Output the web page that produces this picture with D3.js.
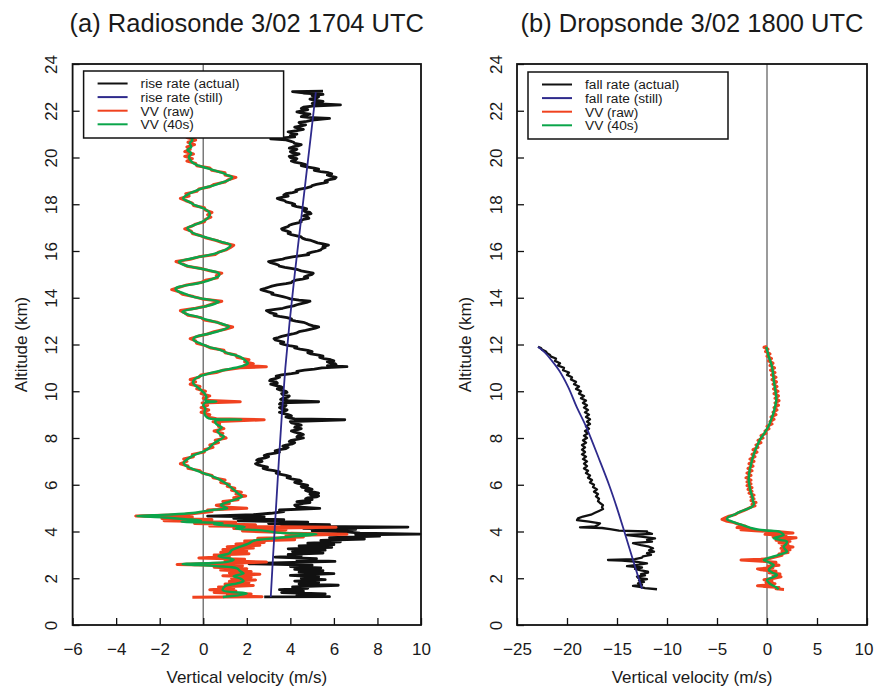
<!DOCTYPE html>
<html>
<head>
<meta charset="utf-8">
<script src="https://cdn.jsdelivr.net/npm/d3@7"></script>
<style>
  body { margin: 0; background: #fff; }
  text { font-family: "Liberation Sans", Arial, Helvetica, sans-serif; fill: #1a1a1a; }
</style>
</head>
<body>
<div id="chart"></div>
<script>
// ---- data: [altitude (km), vertical velocity (m/s)] ----
const altTicks = [0, 2, 4, 6, 8, 10, 12, 14, 16, 18, 20, 22, 24];
const xTicksA = [-6, -4, -2, 0, 2, 4, 6, 8, 10];
const xTicksB = [-25, -20, -15, -10, -5, 0, 5, 10];

const legendA = ["rise rate (actual)", "rise rate (still)", "VV (raw)", "VV (40s)"];
const legendB = ["fall rate (actual)", "fall rate (still)", "VV (raw)", "VV (40s)"];

// (a) radiosonde
const radioStill = [[1.2,3.10],[3,3.21],[5,3.34],[7,3.47],[9,3.61],[11,3.77],[13,3.97],[15,4.2],[17,4.45],[19,4.7],[21,4.95],[22.8,5.17]];

const radioVV40 = [[1.20,0.9],[1.35,2.0],[1.49,0.9],[1.66,1.0],[1.78,1.55],[1.88,1.85],[1.99,1.7],[2.09,1.4],[2.21,1.85],[2.30,1.7],[2.42,1.55],[2.52,0.6],[2.61,-0.95],[2.70,1.1],[2.80,1.4],[2.94,0.7],[3.07,1.2],[3.20,1.3],[3.30,1.55],[3.49,2.1],[3.60,2.3],[3.71,3.3],[3.80,4.3],[3.88,5.2],[3.95,3.4],[4.05,2.7],[4.12,1.5],[4.20,1.9],[4.30,0.5],[4.36,0.9],[4.42,-1.0],[4.47,-0.1],[4.53,-0.8],[4.60,-1.8],[4.66,-3.05],[4.72,-1.6],[4.79,-0.5],[4.86,0.0],[4.93,0.5],[4.99,1.1],[5.13,0.8],[5.25,1.1],[5.36,1.45],[5.50,1.78],[5.62,1.6],[5.75,1.45],[5.91,1.25],[6.05,1.05],[6.20,0.8],[6.35,0.45],[6.48,0.05],[6.60,-0.3],[6.72,-0.6],[6.85,-0.85],[6.95,-0.9],[7.08,-0.75],[7.27,-0.43],[7.40,-0.05],[7.52,0.2],[7.65,0.35],[7.78,0.5],[7.92,0.75],[8.06,0.95],[8.18,0.75],[8.30,0.65],[8.45,0.85],[8.60,0.6],[8.72,0.55],[8.79,1.75],[8.84,0.25],[8.95,0.1],[9.10,0.05],[9.25,0.1],[9.40,0.0],[9.52,0.1],[9.56,0.6],[9.61,0.1],[9.75,0.15],[9.91,0.05],[10.05,-0.1],[10.20,-0.3],[10.32,-0.45],[10.45,-0.45],[10.58,-0.3],[10.70,0.05],[10.84,0.6],[10.97,1.3],[11.10,1.85],[11.20,2.05],[11.30,1.95],[11.47,1.7],[11.62,1.15],[11.76,0.8],[11.90,0.25],[12.04,-0.12],[12.20,-0.45],[12.30,-0.4],[12.47,0.3],[12.62,0.85],[12.76,1.18],[12.90,0.8],[13.05,0.2],[13.19,-0.28],[13.30,-0.75],[13.40,-0.96],[13.52,-0.5],[13.62,0.05],[13.75,0.55],[13.83,0.72],[13.97,-0.12],[14.08,-0.6],[14.19,-0.9],[14.30,-1.2],[14.40,-1.27],[14.50,-0.95],[14.61,-0.28],[14.72,0.2],[14.83,0.49],[14.94,0.72],[15.04,0.72],[15.19,0.18],[15.33,-0.58],[15.45,-1.0],[15.54,-1.12],[15.65,-0.7],[15.76,-0.12],[15.87,0.45],[15.97,0.8],[16.10,1.1],[16.25,1.25],[16.40,0.8],[16.55,0.25],[16.70,-0.3],[16.85,-0.6],[16.97,-0.73],[17.10,-0.45],[17.25,-0.05],[17.40,0.2],[17.55,0.3],[17.68,0.25],[17.82,0.03],[17.95,-0.35],[18.08,-0.6],[18.25,-0.92],[18.40,-0.75],[18.55,-0.4],[18.68,-0.05],[18.80,0.45],[18.92,0.85],[19.05,1.2],[19.15,1.33],[19.25,1.1],[19.35,0.85],[19.45,0.5],[19.55,0.15],[19.65,-0.2],[19.75,-0.45],[19.90,-0.6],[20.03,-0.66],[20.18,-0.55],[20.32,-0.73],[20.45,-0.55],[20.60,-0.62],[20.75,-0.5],[20.90,-0.6],[21.10,-0.55]];

const radioVVraw = [[1.19,-0.5],[1.21,2.7],[1.27,1.1],[1.33,2.2],[1.39,0.5],[1.45,1.5],[1.51,0.3],[1.57,1.4],[1.63,0.7],[1.69,2.3],[1.75,1.0],[1.81,2.1],[1.87,1.2],[1.93,2.4],[1.99,1.3],[2.05,2.2],[2.11,0.9],[2.17,2.6],[2.23,1.2],[2.29,2.2],[2.35,0.8],[2.41,2.0],[2.47,0.5],[2.53,1.8],[2.59,-1.2],[2.63,0.3],[2.69,2.9],[2.75,1.0],[2.81,1.9],[2.87,-0.2],[2.93,1.2],[2.99,0.5],[3.05,2.1],[3.11,0.8],[3.17,2.0],[3.23,0.9],[3.29,2.3],[3.35,1.1],[3.41,2.6],[3.47,1.5],[3.53,2.8],[3.59,1.9],[3.65,4.2],[3.71,2.5],[3.77,4.6],[3.83,3.8],[3.88,6.6],[3.92,4.0],[3.97,3.4],[4.02,1.8],[4.08,3.8],[4.13,1.4],[4.18,6.1],[4.23,0.3],[4.29,2.4],[4.34,-0.4],[4.40,1.5],[4.46,-1.8],[4.51,0.4],[4.56,-1.9],[4.62,-0.5],[4.66,-3.1],[4.72,-1.0],[4.78,-0.3],[4.85,0.4],[4.92,0.2],[4.99,2.0],[5.05,0.9],[5.12,0.6],
  [5.20,1.2],[5.28,0.9],[5.36,1.6],[5.44,1.4],[5.52,1.95],[5.60,1.5],[5.68,1.75],[5.76,1.3],[5.85,1.45],[5.93,1.1],[6.02,1.2],[6.10,0.8],[6.20,1.0],[6.30,0.45],[6.40,0.4],[6.50,-0.05],[6.60,-0.15],[6.70,-0.7],[6.80,-0.7],[6.90,-1.05],[7.00,-0.75],[7.10,-0.9],[7.20,-0.45],[7.30,-0.5],[7.40,0.05],[7.50,0.05],[7.60,0.45],[7.70,0.3],[7.80,0.7],[7.90,0.55],[8.00,1.05],[8.10,0.8],[8.20,0.9],[8.30,0.5],[8.40,0.95],[8.50,0.7],[8.60,0.75],[8.70,0.45],[8.78,2.8],[8.82,0.6],[8.90,0.2],[9.00,0.3],[9.10,-0.1],[9.20,0.25],[9.30,-0.1],[9.40,0.2],[9.50,-0.05],[9.55,1.7],[9.60,0.3],[9.70,0.0],[9.80,0.3],[9.90,-0.1],[10.00,0.1],[10.10,-0.3],[10.20,-0.15],[10.30,-0.6],[10.40,-0.35],[10.50,-0.6],[10.60,-0.2],[10.70,-0.1],[10.80,0.6],[10.90,0.9],[11.00,1.7],[11.05,2.9],[11.10,1.9],[11.18,2.3],[11.26,1.9],[11.35,2.1],[11.45,1.55],[11.55,1.5],[11.65,1.0],[11.75,0.95],[11.85,0.35],[11.95,0.1],[12.05,-0.3],[12.15,-0.35],[12.25,-0.6],[12.35,-0.25],[12.45,0.2],[12.55,0.5],[12.65,1.0],[12.75,1.35],[12.85,0.9],[12.95,0.65],[13.05,0.05],[13.15,-0.1],[13.25,-0.7],[13.35,-0.85],[13.45,-1.05],[13.55,-0.35],[13.65,0.15],[13.75,0.45],[13.85,0.85],[13.95,-0.05],[14.05,-0.45],[14.15,-0.95],[14.25,-1.1],[14.35,-1.45],[14.45,-1.1],[14.55,-0.75],[14.65,-0.1],[14.75,0.1],[14.85,0.65],[14.95,0.6],[15.05,0.85],[15.15,0.3],[15.25,-0.1],[15.35,-0.75],[15.45,-0.95],[15.55,-1.25],[15.65,-0.6],[15.75,-0.2],[15.85,0.55],[15.95,0.7],[16.05,1.05],[16.15,1.25],[16.25,1.4],[16.35,0.9],[16.45,0.6],[16.55,0.15],[16.65,-0.1],[16.75,-0.5],[16.85,-0.55],[16.95,-0.85],[17.05,-0.55],[17.15,-0.35],[17.25,0.05],[17.35,0.1],[17.45,0.35],[17.55,0.2],[17.65,0.4],[17.75,0.1],[17.85,0.05],[17.95,-0.45],[18.05,-0.5],[18.15,-0.8],[18.25,-1.05],[18.35,-0.65],[18.45,-0.8],[18.55,-0.3],[18.65,-0.2],[18.75,0.3],[18.85,0.5],[18.95,1.0],[19.05,1.15],[19.15,1.5],[19.25,1.0],[19.35,1.0],[19.45,0.4],[19.55,0.3],[19.65,-0.3],[19.75,-0.35],[19.85,-0.75],[19.95,-0.5],[20.05,-0.85],[20.15,-0.45],[20.25,-0.85],[20.35,-0.6],[20.45,-0.75],[20.55,-0.4],[20.65,-0.7],[20.75,-0.35],[20.85,-0.75],[21.00,-0.5]];

const radioRise = [[1.20,2.8],[1.21,5.8],[1.27,4.3],[1.33,5.6],[1.39,3.6],[1.45,4.6],[1.51,3.5],[1.57,4.8],[1.63,4.1],[1.70,6.2],[1.76,4.4],[1.82,5.3],[1.88,4.2],[1.94,5.6],[2.00,4.5],[2.06,5.3],[2.12,4.0],[2.20,6.0],[2.26,4.4],[2.32,5.5],[2.38,4.2],[2.44,5.4],[2.50,4.0],[2.56,5.0],[2.62,2.1],[2.66,3.2],[2.72,6.05],[2.78,4.3],[2.84,5.2],[2.90,3.3],[2.96,4.5],[3.02,3.9],[3.08,5.5],[3.14,4.1],[3.20,5.6],[3.26,3.9],[3.32,5.9],[3.38,4.4],[3.44,6.0],[3.50,4.8],[3.56,6.3],[3.62,5.4],[3.68,7.4],[3.74,5.8],[3.80,8.1],[3.86,7.0],[3.89,9.95],[3.93,7.2],[3.98,6.6],[4.03,5.0],[4.09,7.0],[4.14,4.6],[4.19,9.4],[4.23,3.6],[4.29,5.8],[4.34,3.0],[4.40,4.8],[4.46,1.6],[4.51,3.7],[4.56,1.4],[4.62,2.8],[4.66,0.2],[4.72,2.3],[4.78,3.1],[4.85,3.7],[4.92,3.5],[4.99,5.35],[5.05,4.3],[5.13,4.2],
  [5.20,4.6],[5.24,4.9],[5.28,4.3],[5.32,4.7],[5.36,5.0],[5.40,4.7],[5.44,4.8],[5.48,5.2],[5.52,5.3],[5.56,4.95],[5.60,4.9],[5.64,5.3],[5.68,5.1],[5.72,4.8],[5.76,4.7],[5.80,5.0],[5.85,4.85],[5.89,4.55],[5.93,4.5],[5.97,4.8],[6.02,4.6],[6.06,4.35],[6.10,4.2],[6.15,4.5],[6.20,4.4],[6.25,4.05],[6.30,3.85],[6.35,4.0],[6.40,3.8],[6.45,3.5],[6.50,3.35],[6.55,3.5],[6.60,3.25],[6.65,2.95],[6.70,2.75],[6.75,2.95],[6.80,2.75],[6.85,2.5],[6.90,2.4],[6.95,2.55],[7.00,2.7],[7.05,2.45],[7.10,2.55],[7.15,2.85],[7.20,3.0],[7.25,2.8],[7.30,2.95],[7.35,3.3],[7.40,3.5],[7.45,3.3],[7.50,3.5],[7.55,3.8],[7.60,3.9],[7.65,3.65],[7.70,3.8],[7.75,4.1],[7.80,4.2],[7.85,3.95],[7.90,4.05],[7.95,4.35],[8.00,4.6],[8.05,4.3],[8.10,4.35],[8.15,4.6],[8.20,4.45],[8.25,4.2],[8.30,4.05],[8.35,4.3],[8.40,4.5],[8.45,4.2],[8.50,4.25],[8.55,4.5],[8.60,4.3],[8.65,4.05],[8.70,4.0],[8.78,6.5],[8.82,4.2],[8.86,3.95],[8.90,3.8],[8.95,4.05],[9.00,3.9],[9.05,3.65],[9.10,3.5],[9.15,3.75],[9.20,3.85],[9.25,3.6],[9.30,3.5],[9.35,3.75],[9.40,3.8],[9.45,3.5],[9.50,3.55],[9.55,5.3],[9.60,3.9],[9.65,3.55],[9.70,3.65],[9.75,3.9],[9.80,3.95],[9.85,3.65],[9.90,3.6],[9.95,3.85],[10.00,3.8],[10.05,3.55],[10.10,3.4],[10.15,3.65],[10.20,3.55],[10.25,3.3],[10.30,3.1],[10.35,3.4],[10.40,3.35],[10.45,3.05],[10.50,3.1],[10.55,3.35],[10.60,3.5],[10.65,3.35],[10.70,3.6],[10.75,4.05],[10.80,4.35],[10.85,4.3],[10.90,4.65],[10.95,5.1],[11.00,5.45],[11.05,6.6],[11.10,5.7],[11.14,6.1],[11.18,6.05],[11.22,5.8],[11.26,5.7],[11.30,6.0],[11.35,5.85],[11.40,5.55],[11.45,5.35],[11.50,5.5],[11.55,5.3],[11.60,4.95],[11.65,4.8],[11.70,5.0],[11.75,4.8],[11.80,4.45],[11.85,4.2],[11.90,4.3],[11.95,3.95],[12.00,3.7],[12.05,3.55],[12.10,3.7],[12.15,3.5],[12.20,3.3],[12.25,3.25],[12.30,3.45],[12.35,3.6],[12.40,3.85],[12.45,4.1],[12.50,4.3],[12.55,4.4],[12.60,4.7],[12.65,4.9],[12.70,5.15],[12.75,5.3],[12.80,5.05],[12.85,4.85],[12.90,4.75],[12.95,4.6],[13.00,4.25],[13.05,4.0],[13.10,4.05],[13.15,3.85],[13.20,3.5],[13.25,3.25],[13.30,3.35],[13.35,3.1],[13.40,3.0],[13.45,2.9],[13.50,3.3],[13.55,3.65],[13.60,3.85],[13.65,4.15],[13.70,4.3],[13.75,4.5],[13.80,4.75],[13.85,4.9],[13.90,4.4],[13.95,4.0],[14.00,3.85],[14.05,3.65],[14.10,3.4],[14.15,3.15],[14.20,3.2],[14.25,3.0],[14.30,2.8],[14.35,2.65],[14.40,2.85],[14.45,3.0],[14.50,3.15],[14.55,3.4],[14.60,3.8],[14.65,4.05],[14.70,4.1],[14.75,4.25],[14.80,4.55],[14.85,4.8],[14.90,4.65],[14.95,4.8],[15.00,5.0],[15.05,5.05],[15.10,4.8],[15.15,4.5],[15.20,4.35],[15.25,4.1],[15.30,3.75],[15.35,3.5],[15.40,3.45],[15.45,3.3],[15.50,3.1],[15.55,3.0],[15.60,3.3],[15.65,3.65],[15.70,3.8],[15.75,4.1],[15.80,4.5],[15.85,4.85],[15.90,4.8],[15.95,5.0],[16.00,5.25],[16.05,5.4],[16.10,5.45],[16.15,5.6],[16.20,5.5],[16.25,5.75],[16.30,5.5],[16.35,5.25],[16.40,5.1],[16.45,4.95],[16.50,4.7],[16.55,4.55],[16.60,4.5],[16.65,4.3],[16.70,4.05],[16.75,3.9],[16.80,4.0],[16.85,3.85],[16.90,3.65],[16.95,3.6],[17.00,3.75],[17.05,3.9],[17.10,3.95],[17.15,4.1],[17.20,4.35],[17.25,4.5],[17.30,4.45],[17.35,4.6],[17.40,4.85],[17.45,4.8],[17.50,4.6],[17.55,4.7],[17.60,4.95],[17.65,4.9],[17.70,4.65],[17.75,4.6],[17.80,4.75],[17.85,4.6],[17.90,4.3],[17.95,4.1],[18.00,4.2],[18.05,4.05],[18.10,3.8],[18.15,3.75],[18.20,3.55],[18.25,3.4],[18.30,3.65],[18.35,3.9],[18.40,3.7],[18.45,3.8],[18.50,4.1],[18.55,4.3],[18.60,4.25],[18.65,4.45],[18.70,4.75],[18.75,4.95],[18.80,5.0],[18.85,5.2],[18.90,5.5],[18.95,5.7],[19.00,5.6],[19.05,5.8],[19.10,6.05],[19.15,6.1],[19.20,5.85],[19.25,5.7],[19.30,5.9],[19.35,5.75],[19.40,5.4],[19.45,5.1],[19.50,5.3],[19.55,5.1],[19.60,4.75],[19.65,4.5],[19.70,4.7],[19.75,4.5],[19.80,4.2],[19.85,4.05],[19.90,4.25],[19.95,4.3],[20.00,4.0],[20.05,3.95],[20.10,4.25],[20.15,4.4],[20.20,4.1],[20.25,4.0],[20.30,4.2],[20.35,4.3],[20.40,3.95],[20.45,4.1],[20.50,4.35],[20.55,4.5],[20.60,4.2],[20.65,4.15],[20.70,4.0],[20.75,3.8],[20.80,3.1],[20.88,4.2],[20.94,4.0],[21.00,4.3],[21.05,4.05],[21.10,3.9],[21.15,4.3],[21.20,4.6],[21.25,4.35],[21.30,4.2],[21.35,4.5],[21.40,4.7],[21.45,4.45],[21.50,4.4],[21.55,4.75],[21.60,5.0],[21.67,5.8],[21.72,4.8],[21.75,4.5],[21.80,4.7],[21.85,4.9],[21.90,4.55],[21.95,4.3],[22.00,4.6],[22.05,4.8],[22.10,4.5],[22.15,4.6],[22.20,5.0],[22.25,6.3],[22.29,5.4],[22.32,5.0],[22.36,5.3],[22.40,5.5],[22.45,5.1],[22.50,4.9],[22.55,5.2],[22.60,5.3],[22.65,5.0],[22.70,5.5],[22.76,4.6],[22.82,4.1],[22.84,5.5]];

// (b) dropsonde
const dropStill = [[1.55,-12.5],[2.5,-13.2],[3.9,-14.2],[5.0,-15.0],[6.0,-15.8],[7.0,-16.7],[8.5,-18.1],[9.3,-19.0],[10.2,-19.9],[10.9,-20.8],[11.35,-21.6],[11.65,-22.2],[11.9,-22.9]];

const dropFall = [[1.53,-11.0],[1.58,-12.2],[1.62,-12.6],[1.67,-13.4],[1.72,-12.5],[1.78,-12.9],[1.84,-12.3],[1.90,-12.8],[1.96,-12.0],[2.02,-12.9],[2.07,-13.0],[2.12,-12.2],[2.18,-12.6],[2.24,-11.9],[2.28,-11.9],[2.34,-12.6],[2.40,-13.2],[2.46,-12.5],[2.52,-14.0],[2.58,-12.8],[2.64,-12.0],[2.70,-13.0],[2.76,-14.5],[2.78,-15.9],[2.82,-13.2],[2.88,-12.5],[2.94,-12.4],[3.00,-11.6],[3.07,-12.0],[3.14,-11.3],[3.20,-11.8],[3.28,-11.4],[3.35,-11.8],[3.42,-12.6],[3.50,-13.4],[3.57,-11.5],[3.64,-12.0],[3.71,-11.2],[3.78,-12.6],[3.85,-14.0],[3.90,-11.5],[3.96,-12.0],[4.00,-12.0],[4.04,-14.8],[4.10,-15.7],[4.15,-16.5],[4.18,-18.7],[4.22,-17.2],[4.28,-16.9],[4.35,-16.7],[4.42,-17.8],[4.49,-19.0],[4.56,-18.9],[4.64,-18.4],[4.72,-17.6],[4.80,-17.2],[4.88,-16.8],[4.96,-16.4],[5.04,-16.5],[5.13,-16.4],[5.22,-16.7],[5.30,-16.9],[5.40,-16.8],[5.50,-17.1],[5.60,-16.9],[5.70,-17.3],[5.80,-17.0],[5.90,-17.4],[6.00,-17.3],[6.10,-17.7],[6.20,-17.5],[6.30,-17.9],[6.40,-17.7],[6.50,-18.1],[6.60,-17.9],[6.70,-18.3],[6.80,-18.0],[6.90,-18.3],[7.00,-18.0],[7.10,-18.4],[7.20,-18.1],[7.30,-18.5],[7.40,-18.2],[7.50,-18.5],[7.60,-18.2],[7.70,-18.5],[7.80,-18.1],[7.90,-18.4],[8.00,-18.0],[8.10,-18.3],[8.20,-17.9],[8.30,-18.2],[8.40,-17.8],[8.50,-18.1],[8.60,-17.7],[8.70,-18.0],[8.80,-17.7],[8.90,-18.1],[9.00,-17.8],[9.10,-18.2],[9.20,-17.9],[9.30,-18.3],[9.40,-18.0],[9.50,-18.4],[9.60,-18.1],[9.70,-18.6],[9.80,-18.3],[9.90,-18.8],[10.00,-18.6],[10.10,-19.1],[10.20,-18.8],[10.30,-19.3],[10.40,-19.1],[10.50,-19.6],[10.60,-19.5],[10.70,-20.0],[10.80,-19.8],[10.90,-20.4],[11.00,-20.3],[11.10,-20.9],[11.20,-20.7],[11.30,-21.2],[11.40,-21.1],[11.48,-21.6],[11.55,-21.7],[11.63,-22.0],[11.70,-22.1],[11.78,-22.5],[11.85,-22.6],[11.90,-22.9]];

const dropVV40 = [[1.53,1.17],[1.62,0.9],[1.71,0.5],[1.80,0.2],[1.93,0.0],[2.03,0.5],[2.14,1.0],[2.25,0.5],[2.36,0.17],[2.47,0.4],[2.57,0.67],[2.68,0.2],[2.78,-0.33],[2.86,0.1],[2.93,0.67],[3.04,1.5],[3.14,2.0],[3.25,1.8],[3.35,1.67],[3.46,1.9],[3.57,2.0],[3.64,1.3],[3.71,0.67],[3.78,1.2],[3.85,1.67],[3.93,1.5],[4.00,1.17],[4.04,0.0],[4.08,-0.8],[4.14,-1.5],[4.21,-2.0],[4.28,-2.5],[4.35,-3.0],[4.44,-3.6],[4.52,-4.0],[4.60,-3.9],[4.68,-3.5],[4.76,-3.1],[4.85,-2.67],[4.95,-2.1],[5.06,-1.5],[5.18,-1.3],[5.30,-1.4],[5.45,-1.45],[5.60,-1.55],[5.77,-1.67],[5.95,-1.75],[6.20,-1.83],[6.40,-1.8],[6.63,-1.73],[6.85,-1.6],[7.06,-1.5],[7.27,-1.35],[7.48,-1.17],[7.70,-0.95],[7.91,-0.73],[8.12,-0.4],[8.34,-0.07],[8.55,0.2],[8.77,0.4],[9.00,0.6],[9.20,0.73],[9.42,0.85],[9.63,0.93],[9.85,0.9],[10.05,0.83],[10.27,0.75],[10.48,0.67],[10.77,0.6],[11.05,0.5],[11.27,0.35],[11.48,0.17],[11.70,0.05],[11.90,-0.07]];

const dropVVraw = [[1.52,1.7],[1.55,0.9],[1.60,1.2],[1.65,-0.2],[1.68,-0.95],[1.72,0.4],[1.77,0.8],[1.82,-0.1],[1.88,0.5],[1.94,-0.3],[2.00,0.7],[2.06,1.4],[2.12,0.6],[2.18,1.3],[2.24,0.2],[2.30,0.9],[2.36,-0.6],[2.40,-0.95],[2.45,0.6],[2.51,0.1],[2.56,1.2],[2.62,0.4],[2.68,0.9],[2.73,-0.5],[2.78,-2.6],[2.81,-0.6],[2.86,0.4],[2.92,0.9],[2.98,1.5],[3.04,1.2],[3.10,2.1],[3.16,1.5],[3.22,2.3],[3.28,1.4],[3.34,2.6],[3.40,1.5],[3.46,2.1],[3.52,1.2],[3.58,2.3],[3.63,0.9],[3.68,2.0],[3.73,2.9],[3.78,0.6],[3.83,1.9],[3.88,-0.2],[3.94,2.6],[3.99,1.2],[4.03,-1.2],[4.07,-2.6],[4.12,-1.7],[4.17,-3.0],[4.22,-2.1],[4.30,-2.8],[4.38,-3.3],[4.45,-4.1],[4.52,-4.5],[4.58,-4.2],[4.64,-3.9],[4.72,-3.2],[4.80,-2.9],[4.88,-2.4],[4.96,-2.0],[5.04,-1.6],[5.10,-1.2],[5.16,-1.5],[5.24,-1.1],[5.32,-1.6],[5.40,-1.3],[5.48,-1.6],[5.56,-1.3],[5.64,-1.8],[5.72,-1.5],[5.80,-1.9],[5.88,-1.5],[5.96,-2.0],[6.04,-1.6],[6.12,-2.0],[6.20,-1.6],[6.30,-2.1],[6.40,-1.6],[6.50,-2.0],[6.60,-1.5],[6.70,-1.9],[6.80,-1.4],[6.90,-1.8],[7.00,-1.3],[7.10,-1.7],[7.20,-1.2],[7.30,-1.5],[7.40,-1.0],[7.50,-1.4],[7.60,-0.9],[7.70,-1.1],[7.80,-0.6],[7.90,-0.9],[8.00,-0.4],[8.10,-0.6],[8.20,-0.1],[8.30,-0.2],[8.40,0.2],[8.50,0.0],[8.60,0.5],[8.70,0.3],[8.80,0.7],[8.90,0.4],[9.00,0.9],[9.10,0.6],[9.20,1.0],[9.30,0.7],[9.40,1.15],[9.50,0.8],[9.60,1.2],[9.70,0.8],[9.80,1.15],[9.90,0.7],[10.00,1.1],[10.10,0.65],[10.20,1.0],[10.30,0.6],[10.40,0.95],[10.50,0.5],[10.60,0.9],[10.70,0.45],[10.80,0.8],[10.90,0.35],[11.00,0.75],[11.10,0.3],[11.20,0.6],[11.30,0.15],[11.40,0.45],[11.50,0.0],[11.60,0.3],[11.70,-0.15],[11.80,0.1],[11.88,-0.3],[11.92,0.0]];

const colors = { actual: "#111111", still: "#2e2a8c", raw: "#f0421f", smooth: "#0aa54a" };

class SondePanel {
    constructor(config) {
        this.svg = config.svg;
        this.left = config.left;
        this.right = config.right;
        this.top = 64;
        this.bottom = 625;
        this.xDomain = config.xDomain;
        this.xTicks = config.xTicks;
        this.title = config.title;
        this.labels = config.labels;
        this.actual = config.actual;
        this.still = config.still;
        this.raw = config.raw;
        this.smooth = config.smooth;
        this.legendY = config.legendY;
        this.actualWidth = config.actualWidth;

        this.initVis();
    }

    initVis() {
        const vis = this;

        vis.x = d3.scaleLinear().domain(vis.xDomain).range([vis.left, vis.right]);
        vis.y = d3.scaleLinear().domain([0, 24]).range([vis.bottom, vis.top]);
        vis.g = vis.svg.append("g");

        // title
        vis.g.append("text")
            .attr("x", (vis.left + vis.right) / 2)
            .attr("y", 32)
            .attr("text-anchor", "middle")
            .style("font-size", "25.5px")
            .text(vis.title);

        // axis labels
        vis.g.append("text")
            .attr("x", (vis.left + vis.right) / 2)
            .attr("y", 683)
            .attr("text-anchor", "middle")
            .style("font-size", "17px")
            .text("Vertical velocity (m/s)");

        vis.g.append("text")
            .attr("transform", `translate(${vis.left - 46}, ${(vis.top + vis.bottom) / 2}) rotate(-90)`)
            .attr("text-anchor", "middle")
            .style("font-size", "17px")
            .text("Altitude (km)");

        vis.updateVis();
    }

    updateVis() {
        const vis = this;

        // zero line
        vis.g.append("line")
            .attr("x1", vis.x(0)).attr("x2", vis.x(0))
            .attr("y1", vis.top).attr("y2", vis.bottom)
            .attr("stroke", "#7a7a7a")
            .attr("stroke-width", 1.5);

        const line = d3.line()
            .x(d => vis.x(d[1]))
            .y(d => vis.y(d[0]));
        const smoothLine = d3.line()
            .x(d => vis.x(d[1]))
            .y(d => vis.y(d[0]))
            .curve(d3.curveCatmullRom);

        // data lines: actual, raw, 40s, still
        vis.g.append("path").datum(vis.actual)
            .attr("d", line).attr("fill", "none")
            .attr("stroke", colors.actual).attr("stroke-width", vis.actualWidth)
            .attr("stroke-linejoin", "round");
        vis.g.append("path").datum(vis.raw)
            .attr("d", line).attr("fill", "none")
            .attr("stroke", colors.raw).attr("stroke-width", 3)
            .attr("stroke-linejoin", "round");
        vis.g.append("path").datum(vis.smooth)
            .attr("d", smoothLine).attr("fill", "none")
            .attr("stroke", colors.smooth).attr("stroke-width", 2.4);
        vis.g.append("path").datum(vis.still)
            .attr("d", smoothLine).attr("fill", "none")
            .attr("stroke", colors.still).attr("stroke-width", 1.8);

        // axes with inward ticks
        const xAxis = d3.axisBottom(vis.x)
            .tickValues(vis.xTicks)
            .tickSizeInner(-7).tickSizeOuter(0)
            .tickPadding(18);
        const xg = vis.g.append("g")
            .attr("transform", `translate(0, ${vis.bottom})`)
            .call(xAxis);
        xg.select(".domain").remove();
        xg.selectAll("line").attr("stroke", "#111").attr("stroke-width", 1.3);
        xg.selectAll("text").style("font-size", "17px").attr("fill", "#1a1a1a")
            .style("font-family", "'Liberation Sans', Arial, sans-serif");
        // keep a label at the page edge inside the window
        xg.selectAll("text")
            .filter(d => vis.x(d) > 860)
            .attr("text-anchor", "end")
            .attr("x", 873 - vis.right);

        const yAxis = d3.axisLeft(vis.y)
            .tickValues(altTicks)
            .tickSizeInner(-7).tickSizeOuter(0);
        const yg = vis.g.append("g")
            .attr("transform", `translate(${vis.left}, 0)`)
            .call(yAxis);
        yg.select(".domain").remove();
        yg.selectAll("line").attr("stroke", "#111").attr("stroke-width", 1.3);
        yg.selectAll("text")
            .attr("x", null).attr("dy", null)
            .attr("text-anchor", "middle")
            .attr("transform", "translate(-15.5, 0) rotate(-90)")
            .attr("fill", "#1a1a1a")
            .style("font-size", "17px")
            .style("font-family", "'Liberation Sans', Arial, sans-serif");

        // frame
        vis.g.append("rect")
            .attr("x", vis.left).attr("y", vis.top)
            .attr("width", vis.right - vis.left)
            .attr("height", vis.bottom - vis.top)
            .attr("fill", "none")
            .attr("stroke", "#111")
            .attr("stroke-width", 1.8);

        // legend
        const lx = vis.left + 11;
        const legend = vis.g.append("g")
            .attr("transform", `translate(${lx}, ${vis.legendY})`);
        legend.append("rect")
            .attr("width", 200).attr("height", 67)
            .attr("fill", "#fff")
            .attr("stroke", "#111")
            .attr("stroke-width", 1.5);
        const legendColors = [colors.actual, colors.still, colors.raw, colors.smooth];
        const rows = legend.selectAll(".legend-row")
            .data(vis.labels)
            .enter()
            .append("g")
            .attr("class", "legend-row")
            .attr("transform", (d, i) => `translate(0, ${12.5 + i * 13.6})`);
        rows.append("line")
            .attr("x1", 14).attr("x2", 44)
            .attr("stroke", (d, i) => legendColors[i])
            .attr("stroke-width", 2);
        rows.append("text")
            .attr("x", 57)
            .attr("y", 4.8)
            .style("font-size", "13.7px")
            .text(d => d);
    }
}

const svg = d3.select("#chart")
    .append("svg")
    .attr("width", 874)
    .attr("height", 687);

new SondePanel({
    svg: svg, left: 72.6, right: 421, xDomain: [-6, 10], xTicks: xTicksA,
    title: "(a) Radiosonde 3/02 1704 UTC", labels: legendA, legendY: 71,
    actual: radioRise, still: radioStill, raw: radioVVraw, smooth: radioVV40,
    actualWidth: 2.8
});

new SondePanel({
    svg: svg, left: 517, right: 867, xDomain: [-25, 10], xTicks: xTicksB,
    title: "(b) Dropsonde 3/02 1800 UTC", labels: legendB, legendY: 72,
    actual: dropFall, still: dropStill, raw: dropVVraw, smooth: dropVV40,
    actualWidth: 2.3
});
</script>
</body>
</html>
